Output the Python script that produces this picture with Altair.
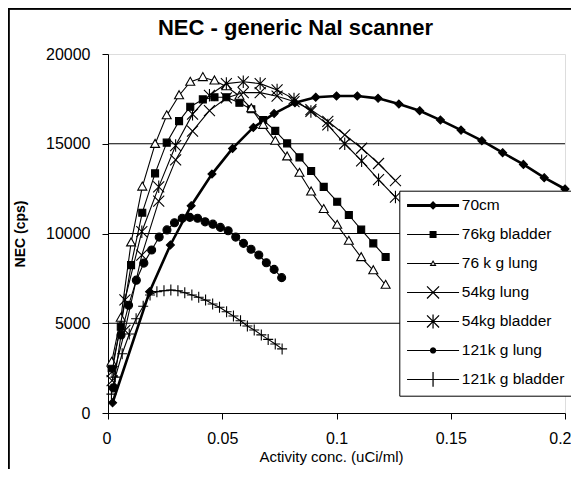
import math
import altair as alt
import pandas as pd

# ---------------- data ----------------
names = ["70cm", "76kg bladder", "76 k g lung", "54kg lung", "54kg bladder",
         "121k g lung", "121k g bladder"]

x70 = [0.002, 0.0182, 0.0273, 0.0364, 0.0455, 0.0545, 0.0636, 0.0727, 0.0818,
       0.0909, 0.1, 0.1091, 0.1182, 0.1273, 0.1364, 0.1455, 0.1545, 0.1636,
       0.1727, 0.1818, 0.1909, 0.2]
y70 = [570, 6760, 9360, 11550, 13310, 14740, 15910, 16680, 17290, 17590, 17660,
       17660, 17530, 17210, 16840, 16320, 15760, 15170, 14500, 13850, 13110, 12480]

x76 = [0.0016, 0.0056, 0.0101, 0.0150, 0.0206, 0.0257, 0.0311, 0.0360, 0.0415,
       0.0466, 0.0518, 0.0575, 0.0627, 0.0679, 0.0732, 0.0784, 0.0838, 0.0889,
       0.0944, 0.1003, 0.1054, 0.1108, 0.1161, 0.1215]
y76_bladder = [2490, 4810, 8240, 11160, 13350, 15060, 16260, 17060, 17470, 17590,
               17590, 17280, 16920, 16320, 15720, 15020, 14240, 13480, 12600,
               11770, 11030, 10220, 9450, 8690]
y76_lung = [2840, 5290, 9490, 12600, 14980, 16570, 17690, 18440, 18700, 18510,
            18190, 17660, 16960, 16040, 15150, 14280, 13370, 12330, 11350, 10470,
            9580, 8670, 7940, 7130]

x54 = [0.0018, 0.0074, 0.0148, 0.0222, 0.0296, 0.0370, 0.0444, 0.0518, 0.0592,
       0.0666, 0.0740, 0.0814, 0.0888, 0.0962, 0.1036, 0.1110, 0.1184, 0.1258]
y54_lung = [1800, 4600, 8800, 11800, 14100, 15700, 16850, 17550, 17850, 17850,
            17650, 17350, 16900, 16250, 15500, 14750, 13900, 12950]
y54_bladder = [2300, 6300, 10100, 12600, 14900, 16650, 17700, 18350, 18450, 18350,
               18000, 17500, 16800, 16050, 15000, 14050, 13000, 12030]

x121_lung = [0.0023, 0.0057, 0.0090, 0.0124, 0.0157, 0.0191, 0.0224, 0.0258,
             0.0291, 0.0325, 0.0358, 0.0392, 0.0425, 0.0459, 0.0492, 0.0526,
             0.0559, 0.0593, 0.0626, 0.0660, 0.0693, 0.0727, 0.0760]
y121_lung = [1400, 4350, 6000, 7400, 8350, 9080, 9800, 10200, 10600, 10850, 10900,
             10850, 10650, 10520, 10340, 10150, 9800, 9450, 9120, 8800, 8370, 8000,
             7540]

x121_bladder = [0.0015, 0.0032, 0.0062, 0.0093, 0.0123, 0.0154, 0.0184, 0.0214,
                0.0245, 0.0275, 0.0306, 0.0336, 0.0367, 0.0397, 0.0427, 0.0458,
                0.0488, 0.0519, 0.0549, 0.0580, 0.0610, 0.0640, 0.0671, 0.0701,
                0.0732, 0.0762]
y121_bladder = [1050, 2000, 3300, 4400, 5250, 5950, 6570, 6760, 6810, 6850, 6810,
                6700, 6570, 6450, 6290, 6070, 5890, 5640, 5400, 5140, 4850, 4620,
                4350, 4100, 3840, 3570]

grid_values = [5000, 10000, 15000]
x_ticks = [0, 0.05, 0.1, 0.15, 0.2]
y_ticks = [0, 5000, 10000, 15000, 20000]

series = [
    (names[0], x70, y70),
    (names[1], x76, y76_bladder),
    (names[2], x76, y76_lung),
    (names[3], x54, y54_lung),
    (names[4], x54, y54_bladder),
    (names[5], x121_lung, y121_lung),
    (names[6], x121_bladder, y121_bladder),
]

rows = []
for name, xs, ys in series:
    for xv, yv in zip(xs, ys):
        rows.append({"series": name, "x": xv, "y": yv})
df = pd.DataFrame(rows)
grid_df = pd.DataFrame({"y": grid_values})
legend_df = pd.DataFrame({"series": names})

# ---------------- styles ----------------
FONT = "Liberation Sans"

# plot markers (size 100 -> 5 px per unit)
marker = {
    names[0]: dict(path="M0,-0.8L0.8,0L0,0.8L-0.8,0Z", fill="black", lw=2.6),
    names[1]: dict(path="M-0.7,-0.7L0.7,-0.7L0.7,0.7L-0.7,0.7Z", fill="black", lw=1.1),
    names[2]: dict(path="M0,-0.95L0.9,0.65L-0.9,0.65Z", fill="white", lw=1.1),
    names[3]: dict(path="M-1.1,-1.1L1.1,1.1M-1.1,1.1L1.1,-1.1", fill=None, lw=1.1),
    names[4]: dict(path="M-1.1,-1.1L1.1,1.1M-1.1,1.1L1.1,-1.1M0,-1.25L0,1.25", fill=None, lw=1.1),
    names[5]: dict(path="M-0.8,0A0.8,0.8 0 1,0 0.8,0A0.8,0.8 0 1,0 -0.8,0Z", fill="black", lw=1.1),
    names[6]: dict(path="M-1,0L1,0M0,-1.1L0,1.1", fill=None, lw=1.1),
}


# legend symbols are drawn as filled polygons only (7 px per unit, symbolSize 196)
def _area(pts):
    s = 0.0
    for i in range(len(pts)):
        x1, y1 = pts[i]
        x2, y2 = pts[(i + 1) % len(pts)]
        s += x1 * y2 - x2 * y1
    return s


def poly(pts, hole=False):
    a = _area(pts)
    if (a > 0) != hole:
        pts = pts[::-1]
    return "M" + "L".join(f"{x:.3f},{y:.3f}" for x, y in pts) + "Z"


def bar(x1, y1, x2, y2, t):
    d = math.hypot(x2 - x1, y2 - y1)
    nx, ny = -(y2 - y1) / d * t / 2, (x2 - x1) / d * t / 2
    return poly([(x1 + nx, y1 + ny), (x2 + nx, y2 + ny), (x2 - nx, y2 - ny), (x1 - nx, y1 - ny)])


U = 7.0
C = 2.715
L0, L1 = -1.0, 6.43
thin = 1.15 / U
thick = 3.0 / U
mk = 1.25 / U


def circle(cx, cy, r, n=24):
    return poly([(cx + r * math.cos(2 * math.pi * i / n), cy + r * math.sin(2 * math.pi * i / n))
                 for i in range(n)])


tri_out = [(C, -0.5), (C + 0.49, 0.35), (C - 0.49, 0.35)]
cen = (C, (-0.5 + 0.35 + 0.35) / 3)
tri_in = [(cen[0] + 0.45 * (x - cen[0]), cen[1] + 0.45 * (y - cen[1])) for x, y in tri_out]

legend_paths = [
    bar(L0, 0, L1, 0, thick) + poly([(C, -0.62), (C + 0.62, 0), (C, 0.62), (C - 0.62, 0)]),
    bar(L0, 0, L1, 0, thin) + poly([(C - 0.5, -0.5), (C + 0.5, -0.5), (C + 0.5, 0.5), (C - 0.5, 0.5)]),
    bar(L0, 0, C - 0.29, 0, thin) + bar(C + 0.29, 0, L1, 0, thin)
    + poly(tri_out) + poly(tri_in, hole=True),
    bar(L0, 0, L1, 0, thin) + bar(C - 0.86, -0.86, C + 0.86, 0.86, mk)
    + bar(C - 0.86, 0.86, C + 0.86, -0.86, mk),
    bar(L0, 0, L1, 0, thin) + bar(C - 0.86, -0.86, C + 0.86, 0.86, mk)
    + bar(C - 0.86, 0.86, C + 0.86, -0.86, mk) + bar(C, -1.0, C, 1.0, mk),
    bar(L0, 0, L1, 0, thin) + circle(C, 0, 0.45),
    bar(L0, 0, L1, 0, thin) + bar(C, -1.05, C, 1.05, mk),
]

W, H = 457, 359
PAD = {"left": 100, "top": 46, "right": 6, "bottom": 56}

xscale = alt.Scale(domain=[0, 0.2], nice=False, zero=True)
yscale = alt.Scale(domain=[0, 20000], nice=False, zero=True)

xaxis = alt.Axis(values=x_ticks, format="~g", grid=False, title="Activity conc. (uCi/ml)",
                 labelFont=FONT, labelFontSize=16, labelColor="black", labelPadding=11,
                 tickSize=6, tickColor="black", domainColor="black", domainWidth=1,
                 titleFont=FONT, titleFontSize=15, titleFontWeight="normal",
                 titleColor="black", titleBaseline="middle", titleY=43, titleX=223,
                 labelFlush=True, labelFlushOffset=6)
yaxis = alt.Axis(values=y_ticks, format="d", grid=False, title="NEC (cps)",
                 labelFont=FONT, labelFontSize=16, labelColor="black", labelPadding=12,
                 tickSize=6, tickColor="black", domainColor="black", domainWidth=1,
                 titleFont=FONT, titleFontSize=14, titleFontWeight="bold",
                 titleColor="black", titleBaseline="middle", titleX=-88, titleY=179.5,
                 labelFlush=False)

X = alt.X("x:Q", scale=xscale, axis=xaxis)
Y = alt.Y("y:Q", scale=yscale, axis=yaxis)

layers = []

# outer chart frame (left and top edges visible)
frame_v = alt.Chart(grid_df).mark_rule(color="black", strokeWidth=1.5).encode(
    x=alt.value(-99.3), y=alt.value(-45.3), y2=alt.value(H + PAD["bottom"]))
frame_h = alt.Chart(grid_df).mark_rule(color="black", strokeWidth=1.5).encode(
    x=alt.value(-100), x2=alt.value(W + PAD["right"]), y=alt.value(-45.3))
layers += [frame_v, frame_h]

# horizontal gridlines
grid = alt.Chart(grid_df).mark_rule(color="black", strokeWidth=1).encode(y=Y)
layers.append(grid)

for name, _, _ in series:
    st = marker[name]
    sub = alt.Chart(df).transform_filter(alt.datum.series == name)
    line = sub.mark_line(color="black", strokeWidth=st["lw"]).encode(x=X, y=Y)
    if st["fill"] is None:
        pt = sub.mark_point(shape=st["path"], size=100, filled=False, stroke="black",
                            strokeWidth=1.1, opacity=1)
    else:
        pt = sub.mark_point(shape=st["path"], size=100, filled=True, fill=st["fill"],
                            stroke="black", strokeWidth=1.1, opacity=1)
    layers += [line, pt.encode(x=X, y=Y)]

legend_layer = alt.Chart(legend_df).mark_point(
    filled=True, fill="black", opacity=0
).encode(
    shape=alt.Shape("series:N", sort=names,
                    scale=alt.Scale(domain=names, range=legend_paths),
                    legend=alt.Legend(
                        title=None, orient="none", legendX=291.3, legendY=136.7,
                        direction="vertical", symbolSize=196, symbolFillColor="black",
                        symbolStrokeWidth=0, symbolOpacity=1,
                        labelFont=FONT, labelFontSize=15.5, labelColor="black",
                        labelOffset=40, labelLimit=300, rowPadding=12, padding=7,
                        strokeColor="black", fillColor="white", symbolOffset=0))
)
layers.append(legend_layer)

chart = alt.layer(*layers).properties(
    width=W, height=H,
    padding=PAD,
    autosize=alt.AutoSizeParams(type="none"),
    title=alt.TitleParams("NEC - generic NaI scanner", font=FONT, fontSize=22,
                          fontWeight="bold", color="black", anchor="middle",
                          frame="group", baseline="alphabetic", dx=-41, dy=49,
                          offset=0),
).configure_view(stroke="#8c8c8c", strokeWidth=1.5).configure(background="white")

chart.save("out.html", embed_options={"renderer": "svg", "actions": False})
